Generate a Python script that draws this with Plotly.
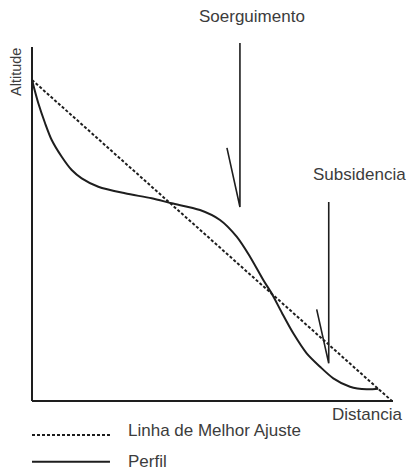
import plotly.graph_objects as go

# ---- data (schematic units: distance 0-100, altitude 0-100) ----
axis_x_dist = [0, 100]
axis_x_alt = [0, 0]
axis_y_dist = [0, 0]
axis_y_alt = [0, 100]

fit_dist = [0, 99.7]
fit_alt = [90.7, 0]

profile_dist = [0, 1.75, 3.60, 5.46, 8.23, 11.00, 13.77, 18.37, 25.76, 33.16, 38.70,
                46.54, 52.08, 56.70, 60.39, 64.07, 66.48, 69.25, 72.38, 76.09, 79.78,
                83.46, 88.09, 92.71, 95.93]
profile_alt = [90.68, 84.10, 78.53, 73.73, 69.01, 65.25, 62.91, 60.54, 58.67, 57.26,
               55.85, 53.95, 51.13, 46.41, 40.76, 34.18, 30.23, 24.86, 19.12, 13.47,
               9.69, 6.41, 4.04, 3.31, 3.47]

uplift_dist = [54.0, 57.6, 57.6]
uplift_alt = [71.5, 54.8, 101.1]

subsid_dist = [78.86, 82.2, 82.2]
subsid_alt = [25.9, 10.65, 56.2]

legend_line_dist = [0, 21.6]
legend_fit_alt = [-9.6, -9.6]
legend_prof_alt = [-17.15, -17.15]

labels = {
    "up": "Soerguimento",
    "down": "Subsidencia",
    "yaxis": "Altitude",
    "xaxis": "Distancia",
    "fit": "Linha de Melhor Ajuste",
    "prof": "Perfil",
}

W, H = 407, 470
LINE = "#1e1e1e"
TXT = "#3c3c3c"
FONT = "Liberation Sans"

fig = go.Figure()

def add(x, y, width=2, dash=None, shape="linear"):
    fig.add_trace(go.Scatter(x=x, y=y, mode="lines", showlegend=False, hoverinfo="skip",
                             line=dict(color=LINE, width=width, dash=dash, shape=shape,
                                       smoothing=0.8 if shape == "spline" else None)))

add(axis_x_dist, axis_x_alt, 2)
add(axis_y_dist, axis_y_alt, 2)
add(fit_dist, fit_alt, 2, dash="3px,2px")
add(profile_dist, profile_alt, 2, shape="spline")
add(uplift_dist, uplift_alt, 1.6)
add(subsid_dist, subsid_alt, 1.6)
add(legend_line_dist, legend_fit_alt, 2, dash="3px,2px")
add(legend_line_dist, legend_prof_alt, 2)

def px_ann(text, px, py, size=17, angle=0, xanchor="center"):
    fig.add_annotation(text=text, x=px / W, y=1 - py / H, xref="paper", yref="paper",
                       showarrow=False, xanchor=xanchor, yanchor="middle", textangle=angle,
                       font=dict(family=FONT, size=size, color=TXT))

px_ann(labels["up"], 252, 16)
px_ann(labels["down"], 359, 174)
px_ann(labels["yaxis"], 16, 72, size=14.5, angle=-90)
px_ann(labels["xaxis"], 367, 414)
px_ann(labels["fit"], 126, 430, xanchor="left")
px_ann(labels["prof"], 126, 461, xanchor="left")

fig.update_layout(
    width=W, height=H, margin=dict(l=0, r=0, t=0, b=0),
    paper_bgcolor="white", plot_bgcolor="white",
    xaxis=dict(range=[-32 / 3.61, (W - 32) / 3.61], visible=False, fixedrange=True),
    yaxis=dict(range=[(401 - H) / 3.54, 401 / 3.54], visible=False, fixedrange=True),
)

fig.write_html("out.html", post_script="document.body.style.margin='0';",
               config={"displayModeBar": False})
